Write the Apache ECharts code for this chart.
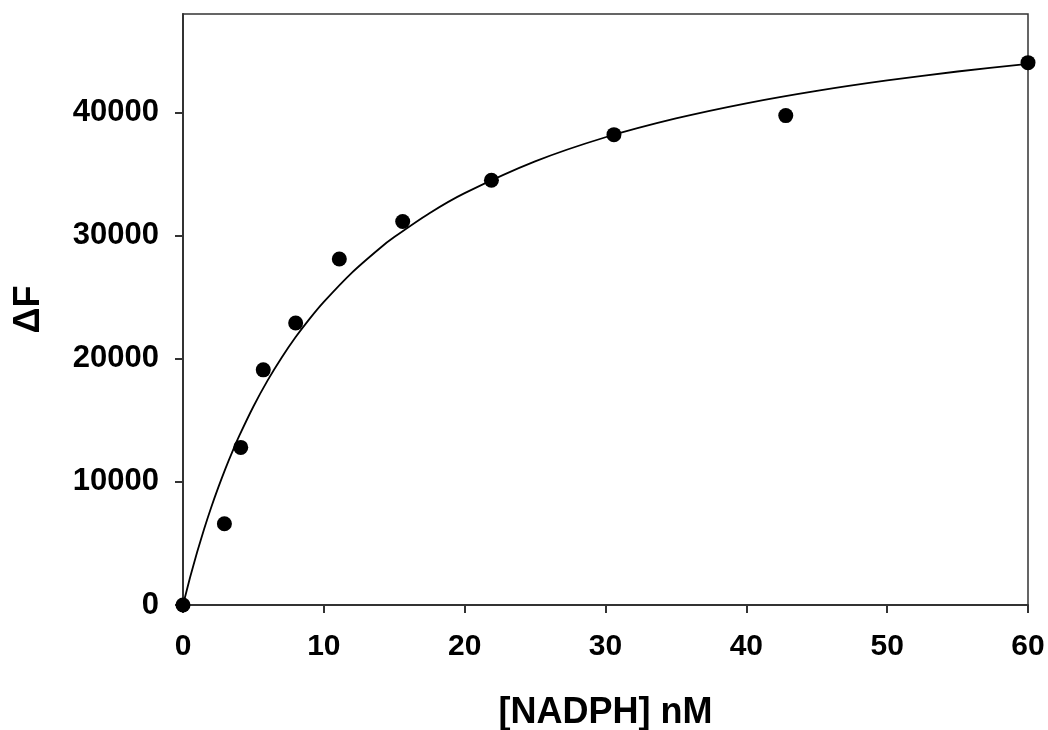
<!DOCTYPE html>
<html>
<head>
<meta charset="utf-8">
<script src="https://cdn.jsdelivr.net/npm/echarts@6/dist/echarts.min.js"></script>
<style>html,body{margin:0;padding:0;background:#fff}#c{width:1048px;height:730px}</style>
</head>
<body>
<div id="c"></div>
<script>
// Measured data: [NADPH] (nM) and ΔF
const nadph = [0, 2.94, 4.1, 5.7, 8.0, 11.1, 15.6, 21.9, 30.6, 42.8, 60];
const deltaF = [0, 6600, 12800, 19100, 22900, 28100, 31150, 34500, 38200, 39750, 44050];
// Fitted curve
const curveX = [0, 0.5, 1, 1.5, 2, 2.5, 3, 3.5, 4, 5, 6, 7, 8, 9, 10, 12, 14, 15, 17.5, 20, 25, 30, 35, 40, 45, 50, 55, 60];
const curveY = [0, 2230, 4280, 6170, 7920, 9530, 11040, 12440, 13750, 16120, 18220, 20080, 21760, 23260, 24620, 27000, 29000, 29880, 31820, 33450, 36030, 37990, 39520, 40750, 41760, 42610, 43330, 43950];
const yTicks = [0, 10000, 20000, 30000, 40000];
const xTicks = [0, 10, 20, 30, 40, 50, 60];

const font = '"Liberation Sans", Arial, sans-serif';
const chart = echarts.init(document.getElementById('c'), null, {renderer: 'canvas'});
chart.setOption({
  animation: false,
  backgroundColor: '#fff',
  grid: {left: 183, right: 20, top: 14, bottom: 125, outerBoundsMode: 'none', containLabel: false,
    show: true, borderColor: '#333', borderWidth: 1.5, backgroundColor: 'transparent'},
  xAxis: {
    type: 'value', min: 0, max: 60, interval: 10,
    name: '[NADPH] nM', nameLocation: 'middle', nameGap: 90,
    nameTextStyle: {fontFamily: font, fontWeight: 'bold', fontSize: 36, color: '#000'},
    axisLine: {show: true, onZero: false, lineStyle: {color: '#333', width: 2}},
    axisTick: {show: true, inside: false, length: 8, lineStyle: {color: '#333', width: 2}, customValues: xTicks},
    axisLabel: {fontFamily: font, fontWeight: 'bold', fontSize: 30, color: '#000', margin: 27, customValues: xTicks,
      formatter: v => String(v)},
    splitLine: {show: false}
  },
  yAxis: {
    type: 'value', min: 0, max: 48000, interval: 10000,
    name: 'ΔF', nameLocation: 'middle', nameGap: 136, nameRotate: 90,
    nameTextStyle: {fontFamily: font, fontWeight: 'bold', fontSize: 36, color: '#000'},
    axisLine: {show: true, onZero: false, lineStyle: {color: '#333', width: 2}},
    axisTick: {show: true, inside: false, length: 8, lineStyle: {color: '#333', width: 2}, customValues: yTicks},
    axisLabel: {fontFamily: font, fontWeight: 'bold', fontSize: 31, color: '#000', margin: 24, customValues: yTicks,
      formatter: v => String(v)},
    splitLine: {show: false}
  },
  series: [
    {
      type: 'line',
      data: curveX.map((x, i) => [x, curveY[i]]),
      smooth: 0.25,
      showSymbol: false, symbol: 'none',
      lineStyle: {color: '#000', width: 1.8},
      z: 2, clip: false
    },
    {
      type: 'scatter',
      data: nadph.map((x, i) => [x, deltaF[i]]),
      symbol: 'circle', symbolSize: 15,
      itemStyle: {color: '#000', opacity: 1},
      z: 3, clip: false
    }
  ]
});
</script>
</body>
</html>
